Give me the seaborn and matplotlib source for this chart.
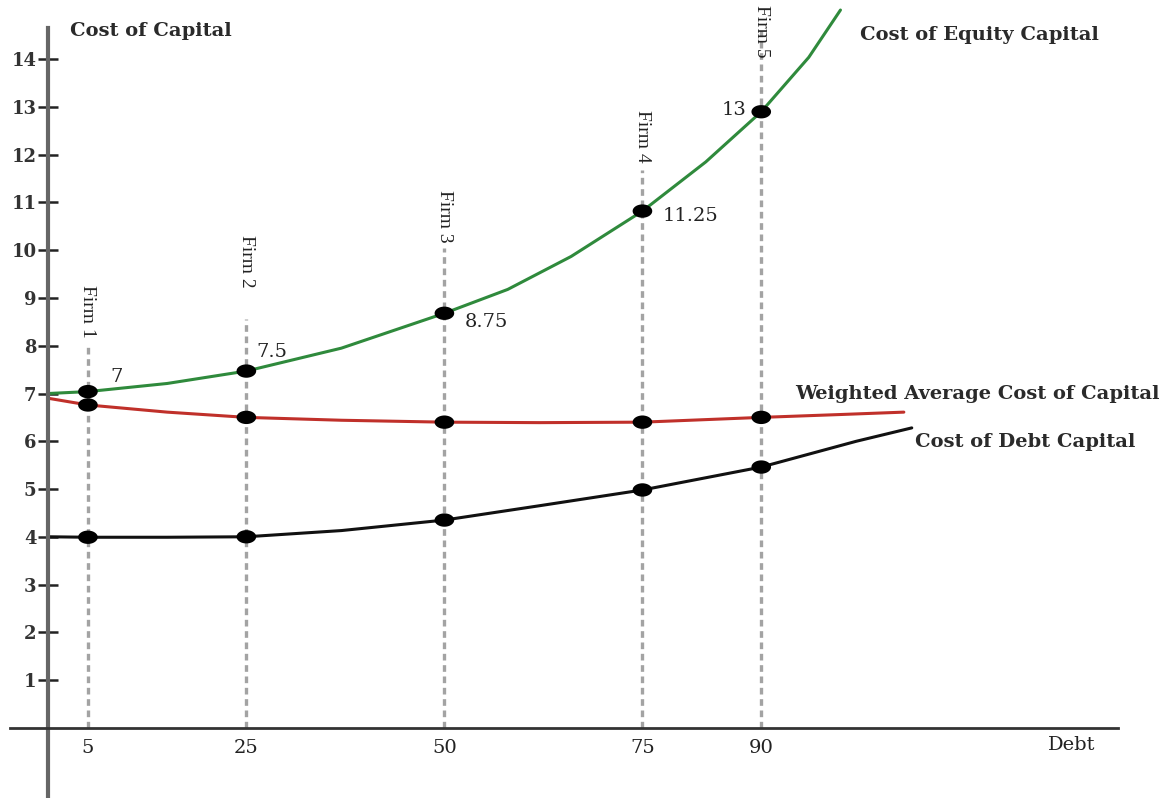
import numpy as np
import pandas as pd
import seaborn as sns
import matplotlib
matplotlib.use("Agg")
from matplotlib import pyplot as plt
from matplotlib.path import Path

# curves (debt level -> cost)
equity_x = [0, 5, 15, 25, 37, 50, 58, 66, 75, 83, 90, 96, 100]
equity_y = [7.0, 7.04, 7.21, 7.47, 7.95, 8.68, 9.18, 9.87, 10.82, 11.85, 12.9, 14.04, 15.03]

wacc_x = [0, 5, 15, 25, 37, 50, 62, 75, 90, 100, 108]
wacc_y = [6.9, 6.76, 6.61, 6.5, 6.44, 6.4, 6.39, 6.4, 6.5, 6.56, 6.61]

debt_x = [0, 5, 15, 25, 37, 50, 62, 75, 90, 102, 109]
debt_y = [4.0, 3.99, 3.99, 4.0, 4.13, 4.35, 4.65, 4.98, 5.46, 6.0, 6.28]

# the five firms
firms = ["Firm 1", "Firm 2", "Firm 3", "Firm 4", "Firm 5"]
firm_debt = [5, 25, 50, 75, 90]
firm_equity = [7.04, 7.47, 8.68, 10.82, 12.9]
firm_wacc = [6.76, 6.5, 6.4, 6.4, 6.5]
firm_debt_cost = [3.99, 4.0, 4.35, 4.98, 5.46]
equity_labels = ["7", "7.5", "8.75", "11.25", "13"]
guide_top = [8.0, 8.55, 10.05, 11.68, 14.6]

y_ticks = list(range(1, 15))

sns.set_style("white")
plt.rcParams["font.family"] = ["DejaVu Serif"]

fig = plt.figure(figsize=(11.7, 7.98), dpi=100)
ax = fig.add_axes([0, 0, 1, 1])

# dashed guides for each firm
for x, top in zip(firm_debt, guide_top):
    ax.plot([x, x], [0, top], color="#a3a3a3", lw=2.4, ls=(0, (2.0, 1.4)), zorder=1)

curves = pd.concat([
    pd.DataFrame({"debt": equity_x, "cost": equity_y, "curve": "equity"}),
    pd.DataFrame({"debt": wacc_x, "cost": wacc_y, "curve": "wacc"}),
    pd.DataFrame({"debt": debt_x, "cost": debt_y, "curve": "debt"}),
])
sns.lineplot(data=curves, x="debt", y="cost", hue="curve", sort=False,
             palette={"equity": "#2f8a3c", "wacc": "#c0302a", "debt": "#111111"},
             lw=2.2, legend=False, ax=ax, zorder=2)

# wide oval dot, like the picture
t = np.linspace(0, 2 * np.pi, 40)
oval = Path(np.column_stack([1.0 * np.cos(t), 0.68 * np.sin(t)]))

points = pd.DataFrame({
    "debt": firm_debt * 3,
    "cost": firm_equity + firm_wacc + firm_debt_cost,
})
sns.scatterplot(data=points, x="debt", y="cost", color="black", s=200, marker=oval,
                edgecolor="none", legend=False, ax=ax, zorder=3)

# firm names, rotated
firm_label_top = [9.27, 10.31, 11.26, 12.93, 15.13]
for name, x, top in zip(firms, firm_debt, firm_label_top):
    ax.text(x, top, name, rotation=270, ha="center", va="top", fontsize=14,
            family="Liberation Serif", color="#222222")

# value labels on the equity curve
label_pos = [(7.8, 7.34, "left"), (26.3, 7.87, "left"), (52.6, 8.5, "left"),
             (77.6, 10.71, "left"), (88.2, 12.93, "right")]
for txt, (x, y, ha) in zip(equity_labels, label_pos):
    ax.text(x, y, txt, ha=ha, va="center", fontsize=14, color="#222222")

name_style = dict(ha="left", va="center", fontsize=14, fontweight="bold", color="#2a2a2a")
ax.text(2.7, 14.6, "Cost of Capital", **name_style)
ax.text(102.5, 14.5, "Cost of Equity Capital", **name_style)
ax.text(94.3, 6.99, "Weighted Average Cost of Capital", **name_style)
ax.text(109.4, 5.98, "Cost of Debt Capital", **name_style)
ax.text(126.2, -0.36, "Debt", ha="left", va="center", fontsize=14, color="#222222")

ax.set_xlim(-6.1, 141.6)
ax.set_ylim(-1.47, 15.24)

for side in ("top", "right"):
    ax.spines[side].set_visible(False)
ax.spines["left"].set_position(("data", 0))
ax.spines["left"].set_bounds(-1.5, 14.65)
ax.spines["left"].set_color("#666666")
ax.spines["left"].set_linewidth(3)
ax.spines["bottom"].set_position(("data", 0))
ax.spines["bottom"].set_bounds(-4.9, 135)
ax.spines["bottom"].set_color("#333333")
ax.spines["bottom"].set_linewidth(2)

ax.set_yticks(y_ticks)
ax.set_yticklabels([str(t) for t in y_ticks], fontweight="bold", color="#333333")
ax.tick_params(axis="y", left=True, direction="inout", length=15, width=1.8,
               color="#222222", labelsize=13, pad=1)
ax.set_xticks(firm_debt)
ax.set_xticklabels([str(d) for d in firm_debt], color="#222222")
ax.tick_params(axis="x", length=0, labelsize=14, pad=8)
ax.set_xlabel("")
ax.set_ylabel("")

fig.savefig("out.png", dpi=100)
